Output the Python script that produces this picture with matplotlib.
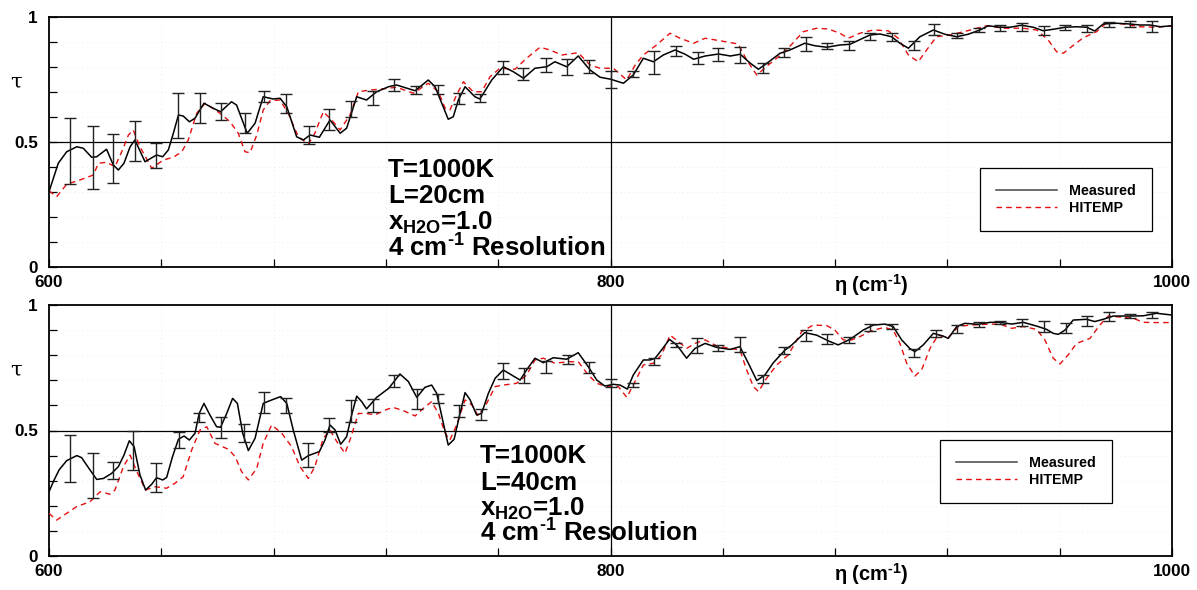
import numpy as np
import matplotlib
matplotlib.use("Agg")
import matplotlib.pyplot as plt
from matplotlib.lines import Line2D

# ---------------- data ----------------
top_meas_x = [600, 603.3, 606.3, 609.9, 612.2, 615.2, 617, 620.5, 622.9, 624.7, 626.7, 628.9, 630.6, 634.2,
              638.3, 640.5, 642.5, 644.3, 646.1, 647.8, 650, 652, 655.2, 658.5, 661.1, 665, 666.8, 670.6,
              673.4, 676.3, 679.9, 682.3, 684.7, 688.2, 690.6, 693, 696.3, 700.1, 703.7, 706, 709.6, 713.1,
              716.7, 720.9, 723.8, 730.4, 735.1, 737.5, 739.9, 742.2, 744, 745.8, 748.2, 751.7, 753.5, 757.7,
              761.8, 765.4, 769, 773.1, 777.3, 780.2, 784.4, 788.5, 792.7, 796.3, 800.1, 804.6, 808.1, 811.7,
              815.3, 818.8, 823, 826.6, 829.6, 833.7, 838.5, 842.7, 846.2, 849.8, 852.7, 855.7, 860.4, 863.9,
              869.2, 872.8, 877, 881.7, 885.3, 892.4, 896, 900.1, 903.1, 906.1, 910.2, 915, 919.1, 923.3,
              927.4, 931.6, 934.5, 938.7, 942.3, 946.4, 950.6, 954.1, 958.3, 961.9, 966, 969.6, 972.5, 975.5,
              980.3, 985, 988.6, 992.2, 995.8, 1000]
top_meas_y = [.301, .415, .461, .481, .475, .439, .441, .471, .408, .388, .415, .481, .508, .421,
              .448, .441, .468, .535, .608, .604, .581, .595, .655, .635, .621, .661, .648, .535,
              .575, .681, .672, .675, .641, .521, .508, .528, .519, .588, .535, .555, .681, .668,
              .701, .721, .728, .705, .748, .721, .655, .591, .601, .668, .721, .681, .672, .748,
              .801, .781, .755, .795, .801, .821, .801, .844, .788, .759, .751, .735, .768, .835,
              .821, .848, .868, .851, .831, .844, .852, .844, .851, .815, .791, .815, .855, .868,
              .895, .885, .879, .888, .891, .928, .932, .921, .895, .875, .921, .948, .931, .921,
              .931, .948, .965, .959, .959, .967, .959, .945, .952, .959, .961, .959, .944, .972,
              .975, .972, .968, .968, .961, .965]

top_hit_x = [600, 602.7, 606.3, 611, 615.8, 617.6, 620.5, 623.5, 625.9, 628.3, 630, 632.4, 636.6, 640.7,
             644.3, 647.3, 649.6, 652.6, 655.6, 660.9, 664.5, 667.4, 669.8, 671.6, 674, 676.3, 678.7, 682.3,
             685.2, 688.8, 692.4, 694.7, 697.7, 700.7, 703.7, 707.2, 710.2, 714.3, 717.9, 723.8, 729.8, 735.1,
             738.7, 741.1, 742.8, 745.2, 747.6, 751.1, 754.1, 757.1, 760.6, 766, 770.1, 774.9, 778.5, 782.6,
             788.5, 792.7, 796.3, 801, 805.8, 808.8, 811.7, 816.4, 821.2, 824.8, 829.6, 833.7, 839, 845.5,
             848.5, 852.1, 856.2, 861.6, 864.5, 868.6, 873.4, 877.6, 881.7, 884.7, 888.8, 893.6, 898.9, 902.5,
             906.1, 909.6, 912.6, 916.1, 920.9, 926.8, 933.9, 939.9, 947, 951.8, 955.9, 958.9, 961.3, 964.2,
             968.4, 973.1, 976.7, 982.6, 988.6, 994.5, 1000]
top_hit_y = [.305, .281, .331, .348, .368, .415, .419, .401, .461, .528, .548, .481, .395, .428,
             .439, .461, .508, .615, .655, .615, .581, .535, .461, .457, .528, .628, .665, .668,
             .615, .521, .492, .535, .621, .588, .548, .608, .701, .708, .711, .719, .695, .735,
             .701, .635, .628, .688, .741, .701, .701, .761, .795, .791, .835, .879, .868, .848,
             .857, .808, .795, .795, .748, .808, .848, .888, .935, .915, .895, .915, .905, .892,
             .828, .768, .808, .857, .890, .941, .955, .952, .935, .915, .935, .948, .945, .915,
             .848, .821, .868, .921, .928, .944, .965, .955, .955, .948, .908, .861, .855, .881,
             .917, .941, .977, .972, .961, .959, .965]

top_err_x = [607.5, 615.8, 622.9, 630.6, 638.1, 646.1, 653.8, 661.1, 669.8, 676.7, 684.4, 692.7, 699.9,
             707.5, 715.3, 722.8, 730.7, 738.4, 746.2, 753.5, 761.6, 769, 776.9, 784.6, 792.3, 800.1,
             808.1, 815.6, 823.2, 831.1, 838.4, 846.1, 854.2, 861.8, 869.5, 877.2, 884.9, 892.6, 900.3,
             908.1, 915.2, 923.5, 931.2, 938.9, 946.7, 954.4, 961.9, 969.8, 977.5, 985, 992.7]
top_err_lo = [.332, .311, .335, .425, .395, .515, .575, .588, .535, .659, .617, .491, .548,
              .599, .647, .705, .692, .691, .651, .659, .772, .748, .781, .767, .777, .717,
              .759, .772, .844, .812, .824, .817, .777, .841, .865, .871, .868, .908, .905,
              .868, .928, .915, .939, .944, .945, .928, .948, .941, .959, .959, .941]
top_err_hi = [.597, .564, .532, .585, .495, .695, .695, .657, .617, .705, .692, .565, .631,
              .665, .705, .753, .724, .728, .697, .691, .825, .795, .837, .831, .828, .785,
              .784, .865, .885, .861, .875, .879, .815, .875, .921, .897, .905, .937, .937,
              .904, .971, .935, .957, .968, .977, .964, .968, .968, .981, .985, .985]

bot_meas_x = [600, 601.7, 603.6, 606.3, 609.9, 611.6, 614.6, 617, 619.4, 622.3, 624.7, 626.7, 628.6, 630.3,
              632.4, 634.4, 636.6, 638.3, 640.5, 641.9, 644, 646.1, 648.1, 650, 652, 653.5, 655.2, 657.3,
              659.7, 661.1, 663.3, 665.4, 667.1, 669, 671, 673.4, 676.3, 678.7, 682.5, 684.7, 687, 690,
              692.4, 696.3, 698.3, 700.1, 701.9, 703.9, 706, 707.8, 709.6, 711.4, 713.1, 716.7, 721, 725,
              728, 731, 733.9, 736.3, 738.1, 740.2, 742.2, 744.3, 746.4, 748.2, 750, 752.3, 754.1, 756.5,
              758.9, 761.8, 764.8, 767.8, 770.1, 773.1, 776.1, 779.6, 784.4, 788.5, 792.1, 795.1, 798, 801,
              803.4, 806, 808.1, 811.7, 814.1, 815.9, 818.2, 821, 823.6, 827.1, 830.1, 833.7, 837.8, 842.6,
              846.1, 849.1, 852.1, 855, 858, 862.2, 864.5, 869.2, 873.4, 877.6, 881.1, 885.3, 890, 893.6,
              897.7, 900.7, 903.7, 906.6, 908.4, 911.4, 915, 918.5, 920.3, 923.3, 926.2, 931, 935.1, 938.7,
              942.9, 947, 951.8, 955.3, 957.7, 959.5, 961.9, 964.8, 969.6, 972.5, 975.5, 979.1, 985, 989.8,
              994.5, 1000]
bot_meas_y = [.256, .300, .343, .380, .400, .392, .343, .305, .309, .329, .356, .402, .459, .436,
              .323, .263, .286, .312, .303, .313, .396, .465, .478, .462, .489, .568, .608, .562,
              .515, .513, .568, .628, .608, .489, .420, .469, .608, .619, .635, .608, .502, .382,
              .400, .416, .462, .522, .502, .445, .475, .562, .637, .615, .586, .632, .668, .725,
              .695, .632, .672, .681, .648, .542, .442, .465, .568, .651, .622, .562, .568, .648,
              .708, .741, .721, .701, .741, .788, .770, .790, .784, .810, .754, .701, .677, .684,
              .681, .665, .721, .781, .781, .788, .821, .863, .841, .788, .827, .847, .831, .823,
              .834, .768, .699, .721, .770, .821, .840, .890, .880, .857, .841, .863, .900, .920,
              .924, .914, .861, .827, .814, .841, .887, .876, .867, .914, .927, .923, .931, .931,
              .924, .931, .916, .903, .887, .883, .900, .940, .943, .934, .943, .956, .956, .957,
              .967, .960]

bot_hit_x = [600, 602.7, 606.3, 609.9, 614.6, 618.2, 621.7, 623.5, 626.5, 628.9, 631, 634.4, 637.8, 641.9,
             644.9, 647.8, 650.8, 653.8, 656.2, 659.1, 663.9, 666.3, 668.6, 671, 674, 676.3, 679.3, 682.9,
             686.4, 689.4, 692.4, 694.7, 697.7, 700.1, 702.5, 705.4, 707.2, 710.2, 713.1, 716.1, 720.3, 722.6,
             726.2, 730.4, 733.3, 736.3, 738.7, 741.1, 742.8, 745.2, 748.2, 750.6, 752.9, 755.9, 758.9, 761.8,
             766.6, 770.1, 773.1, 776.1, 780.2, 785, 788.5, 792.1, 795.1, 798.6, 802.8, 805.8, 808.1, 811.7,
             815.3, 818.2, 821.2, 824.2, 827.1, 830.1, 833.7, 837.8, 842.6, 846.1, 848.5, 850.9, 852.7, 855.6,
             859.2, 863.3, 868.1, 872.2, 877, 879.9, 882.9, 885.9, 888.8, 893, 897.7, 900.7, 903.1, 905.5,
             908.4, 910.8, 913.8, 916.7, 920.3, 923.9, 928, 933.9, 938.7, 942.9, 947, 951.8, 954.7, 957.7,
             960.1, 963, 966, 970.8, 974.3, 977.3, 982.6, 986.2, 989.8, 994.5, 1000]
bot_hit_y = [.170, .143, .170, .197, .216, .256, .246, .263, .356, .402, .343, .263, .276, .270,
             .290, .316, .422, .502, .515, .449, .425, .396, .336, .303, .349, .449, .522, .489,
             .436, .356, .309, .356, .469, .502, .456, .409, .462, .568, .568, .562, .584, .592,
             .579, .558, .588, .615, .568, .489, .462, .522, .622, .602, .558, .608, .675, .681,
             .688, .721, .781, .788, .768, .774, .774, .721, .688, .675, .675, .632, .681, .761,
             .768, .801, .880, .854, .827, .847, .861, .837, .827, .821, .741, .675, .655, .708,
             .761, .801, .894, .920, .918, .900, .861, .861, .874, .898, .911, .900, .847, .768,
             .717, .741, .827, .880, .870, .914, .920, .923, .924, .907, .914, .903, .861, .788,
             .765, .801, .847, .867, .920, .956, .951, .947, .931, .930, .930]

bot_err_x = [607.5, 615.8, 622.9, 630, 638.1, 646.3, 653.5, 661.3, 669.6, 676.7, 684.4, 692.1, 699.9,
             707.5, 715.3, 723, 731, 738.7, 746.2, 753.9, 761.8, 769.3, 776.9, 784.7, 792.5, 800.2,
             808.1, 815.5, 823.2, 830.9, 838.4, 846.1, 854.2, 861.8, 869.5, 877.2, 885, 892.6, 900.3,
             908.1, 915.8, 923.5, 931.2, 938.9, 946.7, 954.4, 962.1, 969.8, 977.5, 985, 992.7]
bot_err_lo = [.293, .230, .305, .343, .254, .429, .535, .469, .453, .568, .568, .353, .495,
              .533, .575, .675, .586, .608, .555, .542, .704, .688, .728, .765, .728, .672,
              .672, .761, .831, .810, .818, .814, .688, .805, .858, .845, .850, .898, .904,
              .791, .871, .890, .911, .924, .916, .894, .887, .918, .938, .947, .947]
bot_err_hi = [.482, .409, .373, .499, .369, .493, .571, .555, .526, .655, .631, .449, .551,
              .622, .625, .721, .665, .644, .602, .586, .768, .750, .777, .801, .774, .704,
              .688, .788, .850, .867, .841, .871, .721, .831, .900, .883, .874, .923, .923,
              .823, .900, .920, .931, .938, .944, .938, .927, .957, .971, .964, .973]

x_ticks = [600, 640, 680, 720, 760, 800, 840, 880, 920, 960, 1000]
x_ticklabels = ['600', '', '', '', '', '800', '', '', '', '', '1000']
y_ticks = [0, .1, .2, .3, .4, .5, .6, .7, .8, .9, 1.0]
y_ticklabels = ['0', '', '', '', '', '0.5', '', '', '', '', '1']

panel_info = [
    ["T=1000K", "L=20cm", r"x$_{\mathrm{H2O}}$=1.0", r"4 cm$^{\text{-1}}$ Resolution"],
    ["T=1000K", "L=40cm", r"x$_{\mathrm{H2O}}$=1.0", r"4 cm$^{\text{-1}}$ Resolution"],
]
legend_labels = ["Measured", "HITEMP"]
x_label = r"η (cm$^{\text{-1}}$)"
y_label = "τ"

# ---------------- style ----------------
plt.rcParams['font.family'] = ['Liberation Sans', 'DejaVu Sans']
plt.rcParams['font.weight'] = 'bold'
plt.rcParams['mathtext.fontset'] = 'custom'
plt.rcParams['mathtext.rm'] = 'Liberation Sans:bold'
plt.rcParams['mathtext.bf'] = 'Liberation Sans:bold'
plt.rcParams['mathtext.it'] = 'Liberation Sans:bold'
plt.rcParams['mathtext.default'] = 'rm'

W, H = 1197, 590
fig = plt.figure(figsize=(W / 100, H / 100), dpi=100)


def fx(px):
    return px / W


def fy(py):
    return 1 - py / H


RED = '#e41010'

panels = [
    dict(top=17, bot=267, mx=top_meas_x, my=top_meas_y, hx=top_hit_x, hy=top_hit_y,
         ex=top_err_x, elo=top_err_lo, ehi=top_err_hi, text_x=388, text_base=[177, 203, 230, 257],
         leg=(980, 168), info=panel_info[0]),
    dict(top=305, bot=556, mx=bot_meas_x, my=bot_meas_y, hx=bot_hit_x, hy=bot_hit_y,
         ex=bot_err_x, elo=bot_err_lo, ehi=bot_err_hi, text_x=480, text_base=[463, 490, 516, 542],
         leg=(940, 440), info=panel_info[1]),
]

L, R = 49, 1172
for p in panels:
    ax = fig.add_axes([fx(L), fy(p['bot']), (R - L) / W, (p['bot'] - p['top']) / H])
    ax.set_xlim(600, 1000)
    ax.set_ylim(0, 1)

    # faint dotted grid
    for yv in y_ticks[1:-1]:
        ax.axhline(yv, color='#e4e4e4', lw=0.6, ls=(0, (1, 4)), zorder=0)
    for xv in x_ticks[1:-1]:
        ax.axvline(xv, color='#e4e4e4', lw=0.6, ls=(0, (1, 4)), zorder=0)
    ax.axhline(0.5, color='black', lw=0.9, zorder=1)
    ax.axvline(800, color='black', lw=0.9, zorder=1)

    ax.plot(p['hx'], p['hy'], color=RED, lw=1.0, ls=(0, (4, 3)), zorder=3)
    ax.plot(p['mx'], p['my'], color='black', lw=1.1, zorder=4)
    ex = np.array(p['ex'])
    lo = np.array(p['elo'])
    hi = np.array(p['ehi'])
    ctr = (lo + hi) / 2
    ax.errorbar(ex, ctr, yerr=(hi - lo) / 2, fmt='none', ecolor='#222222', elinewidth=1.0,
                capsize=4.5, capthick=1.0, zorder=5)

    ax.set_xticks(x_ticks)
    ax.set_xticklabels(x_ticklabels)
    ax.set_yticks(y_ticks)
    ax.set_yticklabels(y_ticklabels)
    ax.tick_params(direction='in', length=6, width=0.9, labelsize=12.3)
    ax.tick_params(axis='y', pad=8)
    ax.tick_params(axis='x', pad=6)
    for lab in ax.get_xticklabels() + ax.get_yticklabels():
        lab.set_fontweight('bold')
    for s in ax.spines.values():
        s.set_linewidth(1.3)

    # axis labels
    fig.text(fx(16), fy((p['top'] + 65)), y_label, fontsize=15, fontweight='normal',
             ha='center', va='center', family=['DejaVu Serif'])
    fig.text(fx(871), fy(p['bot'] + 18), x_label, fontsize=14.5,
             fontweight='bold', ha='center', va='center')

    # condition text
    for s, b in zip(p['info'], p['text_base']):
        fig.text(fx(p['text_x']), fy(b), s, fontsize=18.6, fontweight='bold',
                 ha='left', va='baseline')

    handles = [Line2D([], [], color='#444444', lw=1.1),
               Line2D([], [], color=RED, lw=1.0, ls=(0, (4, 3)))]
    lx, ly = p['leg']
    leg = ax.legend(handles, legend_labels, loc='upper left',
                    bbox_to_anchor=((lx - L) / (R - L), (p['bot'] - ly) / (p['bot'] - p['top'])),
                    frameon=True, fancybox=False, framealpha=1, edgecolor='black',
                    prop=dict(weight='bold', size=10.3), handlelength=4.3, handletextpad=0.85,
                    borderpad=1.1, labelspacing=0.22, borderaxespad=0)
    leg.get_frame().set_linewidth(0.9)
    leg.set_zorder(10)

fig.savefig('out.png', dpi=100)
